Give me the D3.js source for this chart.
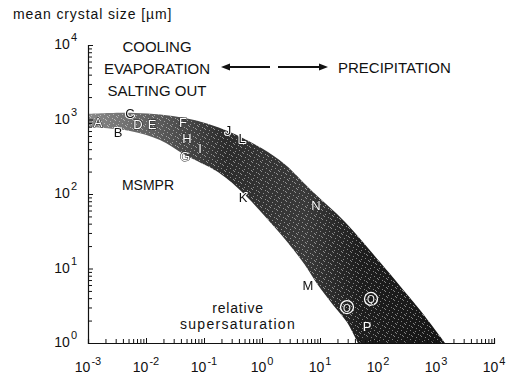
<!DOCTYPE html>
<html><head><meta charset="utf-8">
<script src="https://cdn.jsdelivr.net/npm/d3@7/dist/d3.min.js"></script>
<style>
html,body{margin:0;padding:0;background:#fff;}
svg{display:block;font-family:"Liberation Sans",Arial,Helvetica,sans-serif;}
.lett{opacity:0.999;will-change:transform;}
</style></head>
<body>
<svg id="chart" width="509" height="374"></svg>
<script>
// ---- data (supersaturation [-], mean crystal size [µm]) ----
const upperS = [0.001, 0.0065, 0.047, 0.28, 2.0, 7.6, 27, 108, 240, 530, 1430];
const upperL = [1186, 1222, 1047, 679, 286, 106, 42.1, 12.2, 5.82, 2.77, 1];
const lowerS = [0.001, 0.0053, 0.0174, 0.047, 0.174, 0.51, 1.37, 3.0, 5.5, 9.2, 16.8, 29, 45];
const lowerL = [793, 701, 531, 334, 197, 97, 42, 20.7, 11.1, 6.0, 3.24, 1.91, 1];

const pointNames = ["A","B","C","D","E","F","G","H","I","J","K","L","M","N","O","P","Q"];
const pointS = [0.00149, 0.00329, 0.0053, 0.00728, 0.0127, 0.0435, 0.047, 0.0509, 0.0853, 0.26, 0.47, 0.452, 6.21, 8.53, 29.2, 64.6, 75.7];
const pointL = [898, 659, 1222, 844, 844, 925, 314, 564, 402, 722, 91, 564, 6.0, 71, 3.04, 1.69, 3.9];

const xTickExps = [-3, -2, -1, 0, 1, 2, 3, 4];
const yTickExps = [0, 1, 2, 3, 4];

// ---- layout ----
const svg = d3.select("#chart");
const x = d3.scaleLog().domain([1e-3, 1e4]).range([88, 494]);
const y = d3.scaleLog().domain([1, 1e4]).range([343, 45]);

const defs = svg.append("defs");
const grad = defs.append("linearGradient").attr("id","bandGrad")
  .attr("gradientUnits","userSpaceOnUse").attr("x1",88).attr("x2",450).attr("y1",0).attr("y2",0);
[[0,"#8a8a8a"],[0.2,"#5a5a5a"],[0.38,"#2c2c2c"],[0.6,"#3a3a3a"],[0.75,"#1e1e1e"],[1,"#151515"]]
  .forEach(([o,c])=>grad.append("stop").attr("offset",o).attr("stop-color",c));
const pat = defs.append("pattern").attr("id","stip").attr("patternUnits","userSpaceOnUse")
  .attr("width",9).attr("height",9);
[[0,0],[4,1],[7,3],[2,4],[5,6],[1,7],[8,8],[6,2]].forEach(([a,b])=>
  pat.append("rect").attr("x",a).attr("y",b).attr("width",1).attr("height",1).attr("fill","#fff").attr("opacity",0.45));

// ---- band ----
const up = upperS.map((s,i)=>[x(s), y(upperL[i])]);
const lo = lowerS.map((s,i)=>[x(s), y(lowerL[i])]).reverse();
const line = d3.line().curve(d3.curveCatmullRom.alpha(0.5));
const bandPath = line(up) + "L" + line(lo).slice(1) + "Z";
svg.append("path").attr("d", bandPath).attr("fill","url(#bandGrad)");
svg.append("path").attr("d", bandPath).attr("fill","url(#stip)");

// ---- axes ----
function minorTicks(lo, hi){
  const t=[];
  for(let e=lo;e<hi;e++) for(let m=2;m<=9;m++) t.push(m*Math.pow(10,e));
  return t;
}
const xMajor = xTickExps.map(e=>Math.pow(10,e));
const yMajor = yTickExps.map(e=>Math.pow(10,e));

const gx = svg.append("g").attr("transform","translate(0,343)");
gx.call(d3.axisBottom(x).tickValues(xMajor).tickSize(-5).tickFormat(""));
gx.append("g").call(d3.axisBottom(x).tickValues(minorTicks(-3,4)).tickSize(-4).tickFormat(""));
gx.selectAll("path.domain").attr("stroke","#111").attr("stroke-width",1.2);
gx.select("g path.domain").remove();
gx.selectAll("line").attr("stroke","#111");

const gy = svg.append("g").attr("transform","translate(88,0)");
gy.call(d3.axisLeft(y).tickValues(yMajor).tickSize(-5).tickFormat(""));
gy.append("g").call(d3.axisLeft(y).tickValues(minorTicks(0,4)).tickSize(-4).tickFormat(""));
gy.selectAll("path.domain").attr("stroke","#111").attr("stroke-width",1.2);
gy.select("g path.domain").remove();
gy.selectAll("line").attr("stroke","#111");

// tick labels
xTickExps.forEach(e=>{
  const t = svg.append("text").attr("x", x(Math.pow(10,e))).attr("y", 372)
    .attr("text-anchor","middle").attr("font-size",14).attr("fill","#111");
  t.append("tspan").text("10");
  t.append("tspan").attr("dy",-7).attr("font-size",11).attr("dx",1).text(e<0? "-"+(-e) : String(e));
});
yTickExps.forEach(e=>{
  const yy = y(Math.pow(10,e));
  const t = svg.append("text").attr("x", 77).attr("y", yy+4)
    .attr("text-anchor","end").attr("font-size",14).attr("fill","#111");
  t.append("tspan").text("10");
  t.append("tspan").attr("dy",-8).attr("font-size",11).attr("dx",1).text(String(e));
});

// ---- labels ----
svg.append("text").attr("x",13).attr("y",19).attr("font-size",14).attr("letter-spacing",0.9)
  .attr("fill","#111").text("mean crystal size [µm]");

const leftLines = ["COOLING","EVAPORATION","SALTING OUT"];
leftLines.forEach((s,i)=>svg.append("text").attr("x",157).attr("y",52+i*22)
  .attr("text-anchor","middle").attr("font-size",15).attr("fill","#111").text(s));
svg.append("text").attr("x",338).attr("y",73).attr("font-size",15).attr("fill","#111").text("PRECIPITATION");
svg.append("text").attr("x",148).attr("y",190).attr("text-anchor","middle").attr("font-size",14).attr("fill","#111").text("MSMPR");
svg.append("text").attr("x",238).attr("y",313).attr("text-anchor","middle").attr("font-size",14).attr("letter-spacing",0.8).attr("fill","#111").text("relative");
svg.append("text").attr("x",238).attr("y",329).attr("text-anchor","middle").attr("font-size",14).attr("letter-spacing",1.3).attr("fill","#111").text("supersaturation");

// arrows
function arrow(x1,x2,yy){
  const dir = Math.sign(x2-x1);
  svg.append("line").attr("x1",x1).attr("x2",x2-dir*7).attr("y1",yy).attr("y2",yy)
    .attr("stroke","#111").attr("stroke-width",2.2);
  svg.append("path").attr("d",`M${x2},${yy}L${x2-dir*9},${yy-3.5}L${x2-dir*9},${yy+3.5}Z`).attr("fill","#111");
}
arrow(270,221,67);
arrow(278,328,67);

// ---- point letters ----
const darkLetters = new Set(["B","C","J","K","L","M"]);
const circled = new Set(["O","Q"]);
const gl = svg.append("g").attr("class","lett");
pointNames.forEach((n,i)=>{
  const px = x(pointS[i]), py = y(pointL[i]);
  if(circled.has(n)){
    gl.append("circle").attr("cx",px).attr("cy",py).attr("r",6.5)
      .attr("fill","none").attr("stroke","#fff").attr("stroke-width",1.3);
  }
  const dark = darkLetters.has(n);
  gl.append("text").attr("x",px).attr("y",py+4.5).attr("text-anchor","middle")
    .attr("font-size", circled.has(n)? 10 : 13)
    .attr("fill", dark ? "#111" : "#fff")
    .attr("stroke", dark ? "#fff" : "#222")
    .attr("stroke-width", dark ? 2 : 1)
    .attr("stroke-linejoin","round")
    .attr("paint-order","stroke")
    .text(n);
});
</script>
</body></html>
